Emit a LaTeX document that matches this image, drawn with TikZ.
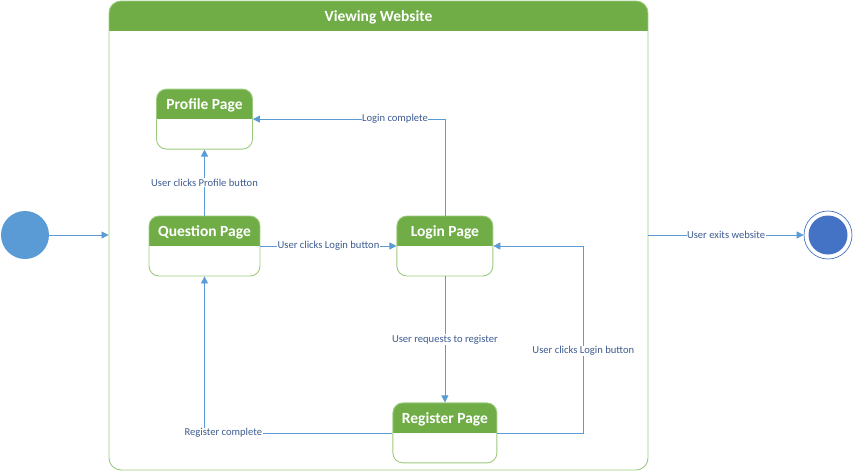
\documentclass[tikz,border=0pt]{standalone}
\usepackage{fontspec}
\setmainfont{Carlito}
\usetikzlibrary{arrows.meta,positioning}

\definecolor{hdrgreen}{HTML}{70AD47}
\definecolor{bodygreen}{HTML}{9DCB7D}
\definecolor{flowblue}{HTML}{5B9BD5}
\definecolor{lblblue}{HTML}{3E5C91}
\definecolor{endblue}{HTML}{4472C4}

\begin{document}
\begin{tikzpicture}[
    x=1pt, y=-1pt,
    state/.style={rectangle, draw=bodygreen, line width=0.9pt, rounded corners=10pt,
        minimum width=96pt, minimum height=60pt, inner sep=0pt,
        path picture={\fill[hdrgreen, sharp corners] (path picture bounding box.north west)
            rectangle ([yshift=-30pt]path picture bounding box.north east);}},
    title/.style={text=white, font=\fontsize{15.5}{17}\selectfont\bfseries, inner sep=0pt},
    flow/.style={draw=flowblue, line width=0.8pt, -{Triangle[length=7pt,width=7pt]}},
    lbl/.style={fill=white, text=lblblue, font=\fontsize{10.6}{12}\selectfont, inner sep=0.5pt},
]
\useasboundingbox (0,0) rectangle (853,471);

% outer composite state
\node[state, minimum width=539pt, minimum height=469pt, rounded corners=12pt] (website) at (378.5,235.5) {};
\node[title] (websitetitle) at ([yshift=-17pt]website.north) {Viewing Website};

% inner states
\node[state, minimum width=111pt] (question) at (204.5,246) {};
\node[state, above=66pt of question] (profile) {};
\node[state, right=136pt of question] (login) {};
\node[state, minimum width=104pt, below=126pt of login] (register) {};

\node[title] (profiletitle) at ([yshift=-17pt]profile.north) {Profile Page};
\node[title] (questiontitle) at ([yshift=-17pt]question.north) {Question Page};
\node[title] (logintitle) at ([yshift=-17pt]login.north) {Login Page};
\node[title] (registertitle) at ([yshift=-17pt]register.north) {Register Page};

% start and end
\node[circle, fill=flowblue, minimum size=48pt, inner sep=0pt] (init) at (25,235) {};
\node[circle, draw=endblue, line width=0.7pt, minimum size=48pt, inner sep=0pt] (final) at (828,235) {};
\node[circle, fill=endblue, minimum size=39pt, inner sep=0pt] (finaldot) at (final) {};

% transitions
\draw[flow] (init) -- (init -| website.west);
\draw[flow] (final -| website.east) -- node[lbl] {User exits website} (final);
\draw[flow] (question) -- node[lbl] {User clicks Profile button} (profile);
\draw[flow] (question.east) -- node[lbl] {User clicks Login button} (login.west);
\draw[flow] (login.north) |- node[lbl, pos=0.63] {Login complete} (profile.east);
\draw[flow] (login) -- node[lbl] {User requests to register} (register);
\draw[flow] (register.east) -- ++(86,0) |- node[lbl, pos=0.22] {User clicks Login button} (login.east);
\draw[flow] (register.west) -| node[lbl, pos=0.45] {Register complete} (question.south);
\end{tikzpicture}
\end{document}
